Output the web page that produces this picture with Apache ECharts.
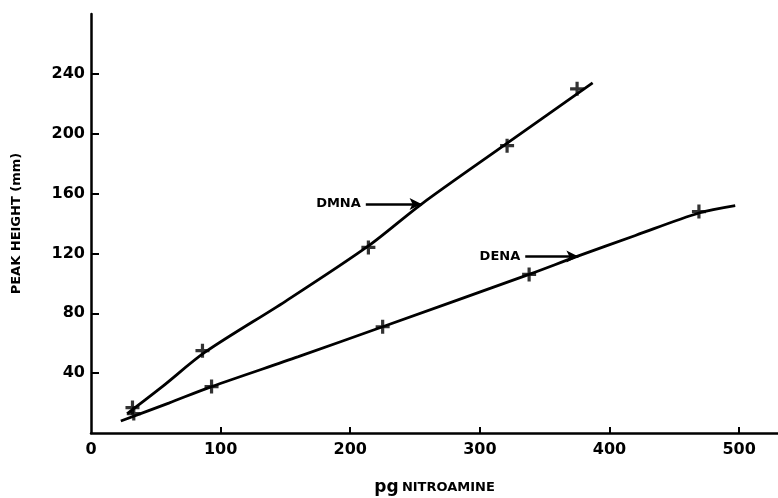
<!DOCTYPE html>
<html>
<head>
<meta charset="utf-8">
<script src="https://cdn.jsdelivr.net/npm/echarts@6/dist/echarts.min.js"></script>
<style>html,body{margin:0;padding:0;background:#fff;}#c{width:778px;height:498px;}</style>
</head>
<body>
<div id="c"></div>
<script>
var xTicks = [100, 200, 300, 400, 500];
var xLabels = [0, 100, 200, 300, 400, 500];
var yTicks = [40, 80, 120, 160, 200, 240];

var dmnaPoints = [[32, 17], [86, 55], [214, 124], [321, 192], [375, 230]];
var denaPoints = [[33, 13], [93, 31], [225, 71], [338, 106], [469, 148]];

var dmnaCurve = [[28, 13], [55, 31], [88, 54], [150, 88], [214, 125], [255, 153], [320, 193], [387, 234]];
var denaCurve = [[23, 8], [60, 20], [93, 31], [160, 51], [225, 71], [338, 106], [375, 118], [420, 132], [469, 147], [497, 152]];

var dmnaArrow = [[212, 153], [255, 153]];
var denaArrow = [[335, 118], [376, 118]];

var plus = 'path://M-1.6,-7H1.6V7H-1.6Z M-7,-1.6H7V1.6H-7Z';
var font = 'DejaVu Sans';

function arrow(pts, name) {
  return {
    silent: true,
    symbol: ['none', 'arrow'],
    symbolSize: [9, 12],
    lineStyle: { color: '#000', width: 2.5, type: 'solid' },
    label: { show: true, position: 'start', formatter: name, color: '#000', fontFamily: font, fontWeight: 'bold', fontSize: 13, distance: 5 },
    data: [[{ coord: pts[0] }, { coord: pts[1] }]]
  };
}

var chart = echarts.init(document.getElementById('c'), null, { renderer: 'canvas' });
chart.setOption({
  animation: false,
  backgroundColor: '#fff',
  grid: { left: 91, right: 0, top: 14, bottom: 65, containLabel: false, outerBoundsMode: 'none' },
  xAxis: {
    type: 'value', min: 0, max: 530,
    axisLine: { lineStyle: { color: '#000', width: 2.5 } },
    axisTick: { inside: true, length: 6, lineStyle: { color: '#000', width: 2 }, customValues: xTicks },
    axisLabel: { customValues: xLabels, color: '#000', fontFamily: font, fontWeight: 'bold', fontSize: 16, margin: 9 },
    splitLine: { show: false },
    name: '{a|pg} {b|NITROAMINE}',
    nameLocation: 'middle', nameGap: 46,
    nameTextStyle: {
      rich: {
        a: { fontFamily: font, fontSize: 17, fontWeight: 'bold', color: '#000' },
        b: { fontFamily: font, fontSize: 13, fontWeight: 'bold', color: '#000' }
      }
    }
  },
  yAxis: {
    type: 'value', min: 0, max: 280,
    axisLine: { show: true, lineStyle: { color: '#000', width: 2.5 } },
    axisTick: { show: true, inside: true, length: 8, lineStyle: { color: '#000', width: 2 }, customValues: yTicks },
    axisLabel: { customValues: yTicks, color: '#000', fontFamily: font, fontWeight: 'bold', fontSize: 16, margin: 6 },
    splitLine: { show: false },
    name: 'PEAK HEIGHT (mm)',
    nameLocation: 'middle', nameGap: 68, nameRotate: 90,
    nameTextStyle: { fontFamily: font, fontSize: 13, fontWeight: 'bold', color: '#000' }
  },
  series: [
    {
      name: 'DMNA curve', type: 'line', data: dmnaCurve, smooth: 0.3, symbol: 'none',
      lineStyle: { color: '#000', width: 2.8 },
      markLine: arrow(dmnaArrow, 'DMNA')
    },
    {
      name: 'DENA curve', type: 'line', data: denaCurve, smooth: 0.3, symbol: 'none',
      lineStyle: { color: '#000', width: 2.8 },
      markLine: arrow(denaArrow, 'DENA')
    },
    {
      name: 'DMNA', type: 'scatter', data: dmnaPoints, symbol: plus, symbolSize: 14,
      itemStyle: { color: '#000' }
    },
    {
      name: 'DENA', type: 'scatter', data: denaPoints, symbol: plus, symbolSize: 14,
      itemStyle: { color: '#000' }
    }
  ]
});
</script>
</body>
</html>
